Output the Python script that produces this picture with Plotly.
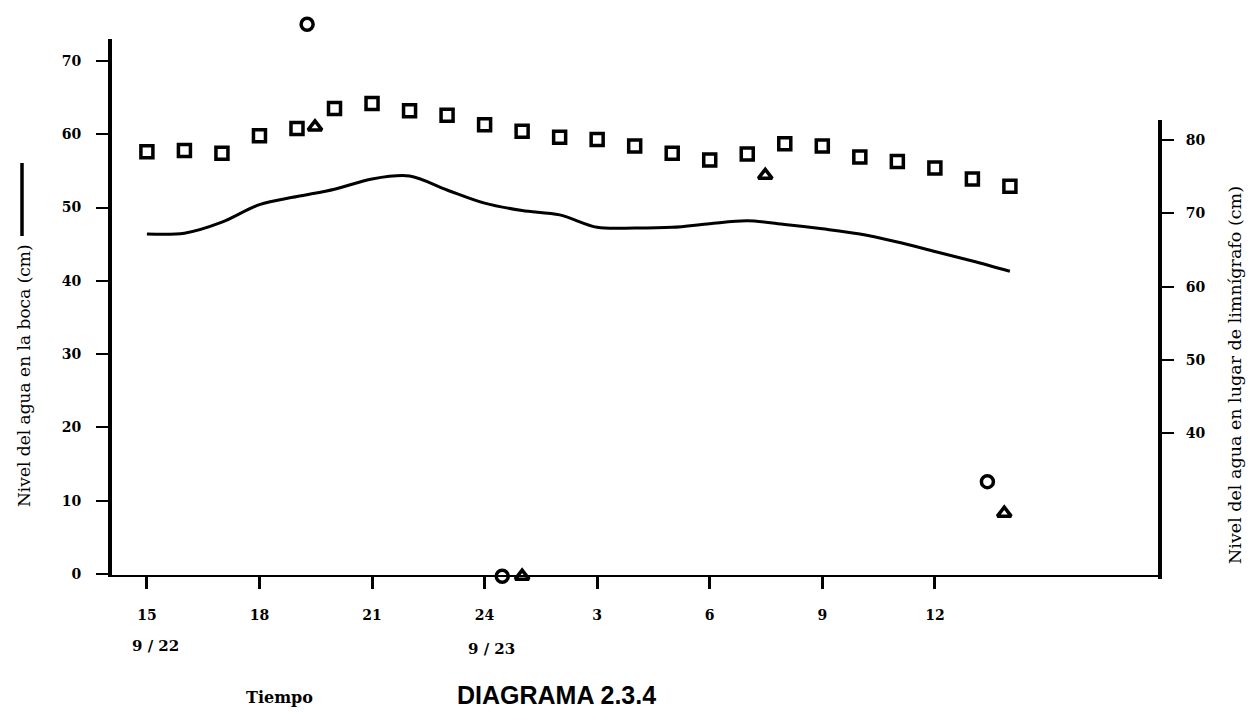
import plotly.graph_objects as go

# ---- data (hours counted from 0:00 on 9/22) ----
hours_line = [15, 16, 17, 18, 19, 20, 21, 22, 23, 24, 25, 26, 27, 28, 29, 30, 31, 32, 33, 34, 35, 36, 37, 38]
boca_level = [46.4, 46.5, 48.0, 50.4, 51.5, 52.5, 53.9, 54.3, 52.4, 50.6, 49.6, 49.0, 47.3, 47.2, 47.3, 47.8,
              48.2, 47.7, 47.1, 46.4, 45.3, 44.0, 42.7, 41.3]

hours_sq = [15, 16, 17, 18, 19, 20, 21, 22, 23, 24, 25, 26, 27, 28, 29, 30, 31, 32, 33, 34, 35, 36, 37, 38]
limni_level = [78.4, 78.6, 78.2, 80.6, 81.6, 84.3, 85.0, 84.0, 83.4, 82.1, 81.2, 80.4, 80.1, 79.2, 78.2, 77.3,
               78.1, 79.5, 79.2, 77.7, 77.1, 76.2, 74.7, 73.7]

hours_circ = [19.27, 24.47, 37.4]
circ_level = [75.0, -0.3, 12.6]

hours_tri = [19.48, 31.48, 25.0, 37.85]
tri_level = [61.0, 54.4, -0.3, 8.3]

x_tickvals = [15, 18, 21, 24, 27, 30, 33, 36]
x_ticktext = ["15", "18", "21", "24", "3", "6", "9", "12"]
right_ticks = [40, 50, 60, 70, 80]
left_ticks = [0, 10, 20, 30, 40, 50, 60, 70]

# ---- geometry (pixels) ----
W, H = 1256, 713
PL, PR = 112, 1160          # plot left / right edge
AX_TOP, AX_BOT = 39, 575    # left axis top / x-axis line
AREA_TOP, AREA_BOT = 8, 605 # extended plotting area (for marks outside the axis range)
area_h = AREA_BOT - AREA_TOP

OFFSET = 20.8  # right-axis value minus left-axis value at same height
left_range = [-0.14, 73.0]
px_per_unit = (AX_BOT - AX_TOP) / (left_range[1] - left_range[0])
right_range = [left_range[0] + OFFSET, left_range[1] + OFFSET]
full_range = [left_range[0] - (AREA_BOT - AX_BOT) / px_per_unit,
              left_range[1] + (AX_TOP - AREA_TOP) / px_per_unit]
dom = [(AREA_BOT - AX_BOT) / area_h, (AREA_BOT - AX_TOP) / area_h]


def px_x(p):
    return (p - PL) / (PR - PL)


def px_y(p):
    return (AREA_BOT - p) / area_h


tick_font = dict(family="DejaVu Serif", size=14, color="black", weight="bold")

fig = go.Figure()
fig.add_trace(go.Scatter(x=hours_line, y=boca_level, mode="lines",
                         line=dict(color="black", width=3, shape="spline", smoothing=0.9),
                         showlegend=False, hoverinfo="skip"))
fig.add_trace(go.Scatter(x=hours_sq, y=limni_level, mode="markers", yaxis="y2",
                         marker=dict(symbol="square-open", size=12, color="black",
                                     line=dict(width=3.5, color="black")),
                         showlegend=False))
fig.add_trace(go.Scatter(x=hours_circ, y=circ_level, mode="markers", yaxis="y3",
                         marker=dict(symbol="circle-open", size=12, color="black",
                                     line=dict(width=3.5, color="black")),
                         showlegend=False))
fig.add_trace(go.Scatter(x=hours_tri, y=tri_level, mode="markers", yaxis="y3",
                         marker=dict(symbol="triangle-up-open", size=12, color="black",
                                     line=dict(width=3.5, color="black")),
                         showlegend=False))

fig.update_layout(
    width=W, height=H,
    margin=dict(l=PL, r=W - PR, t=AREA_TOP, b=H - AREA_BOT),
    paper_bgcolor="white", plot_bgcolor="rgba(0,0,0,0)",
    xaxis=dict(range=[14.07, 42.0], tickvals=x_tickvals, ticktext=x_ticktext, anchor="y",
               showgrid=False, zeroline=False, showline=True, linecolor="black", linewidth=2,
               ticks="outside", ticklen=12, tickwidth=3, tickcolor="black",
               tickfont=tick_font, ticklabelstandoff=14),
    yaxis=dict(range=left_range, domain=dom, tickvals=left_ticks, showgrid=False, zeroline=False,
               showline=True, linecolor="black", linewidth=4,
               ticks="outside", ticklen=12, tickwidth=2, tickcolor="black",
               tickfont=tick_font, ticklabelstandoff=12),
    yaxis2=dict(range=right_range, domain=dom, tickvals=right_ticks, overlaying="y", side="right",
                showgrid=False, zeroline=False, showline=False, anchor="x",
                ticks="outside", ticklen=13, tickwidth=2, tickcolor="black",
                tickfont=tick_font, ticklabelstandoff=9),
    yaxis3=dict(range=full_range, domain=[0, 1], anchor="x", showgrid=False, zeroline=False,
                showline=False, showticklabels=False, ticks=""),
)

# right axis line (shorter than the left one)
fig.add_shape(type="line", xref="paper", yref="paper", x0=1, x1=1,
              y0=px_y(AX_BOT + 4), y1=px_y(120), line=dict(color="black", width=4))
# line-sample after the left axis title
fig.add_shape(type="line", xref="paper", yref="paper", x0=px_x(22), x1=px_x(22),
              y0=px_y(236), y1=px_y(163), line=dict(color="black", width=3.5))

ann_font = dict(family="DejaVu Serif", size=15, color="black", weight="bold")
fig.add_annotation(x=px_x(155), y=px_y(646), xref="paper", yref="paper", text="9 / 22",
                   showarrow=False, font=ann_font, xanchor="center", yanchor="middle")
fig.add_annotation(x=px_x(491), y=px_y(649), xref="paper", yref="paper", text="9 / 23",
                   showarrow=False, font=ann_font, xanchor="center", yanchor="middle")
fig.add_annotation(x=px_x(279), y=px_y(698), xref="paper", yref="paper", text="Tiempo", showarrow=False,
                   font=dict(family="DejaVu Serif", size=16, color="black", weight="bold"),
                   xanchor="center", yanchor="middle")
fig.add_annotation(x=px_x(556), y=px_y(695), xref="paper", yref="paper", text="DIAGRAMA 2.3.4",
                   showarrow=False,
                   font=dict(family="Liberation Sans", size=25, color="black", weight="bold"),
                   xanchor="center", yanchor="middle")
fig.add_annotation(x=px_x(24), y=px_y(376), xref="paper", yref="paper",
                   text="Nivel del agua en la boca (cm)", showarrow=False, textangle=-90,
                   font=dict(family="DejaVu Serif", size=17, color="black"),
                   xanchor="center", yanchor="middle")
fig.add_annotation(x=px_x(1235), y=px_y(375), xref="paper", yref="paper",
                   text="Nivel del agua en lugar de limnígrafo (cm)", showarrow=False, textangle=-90,
                   font=dict(family="DejaVu Serif", size=17.5, color="black"),
                   xanchor="center", yanchor="middle")

fig.write_html("out.html")
